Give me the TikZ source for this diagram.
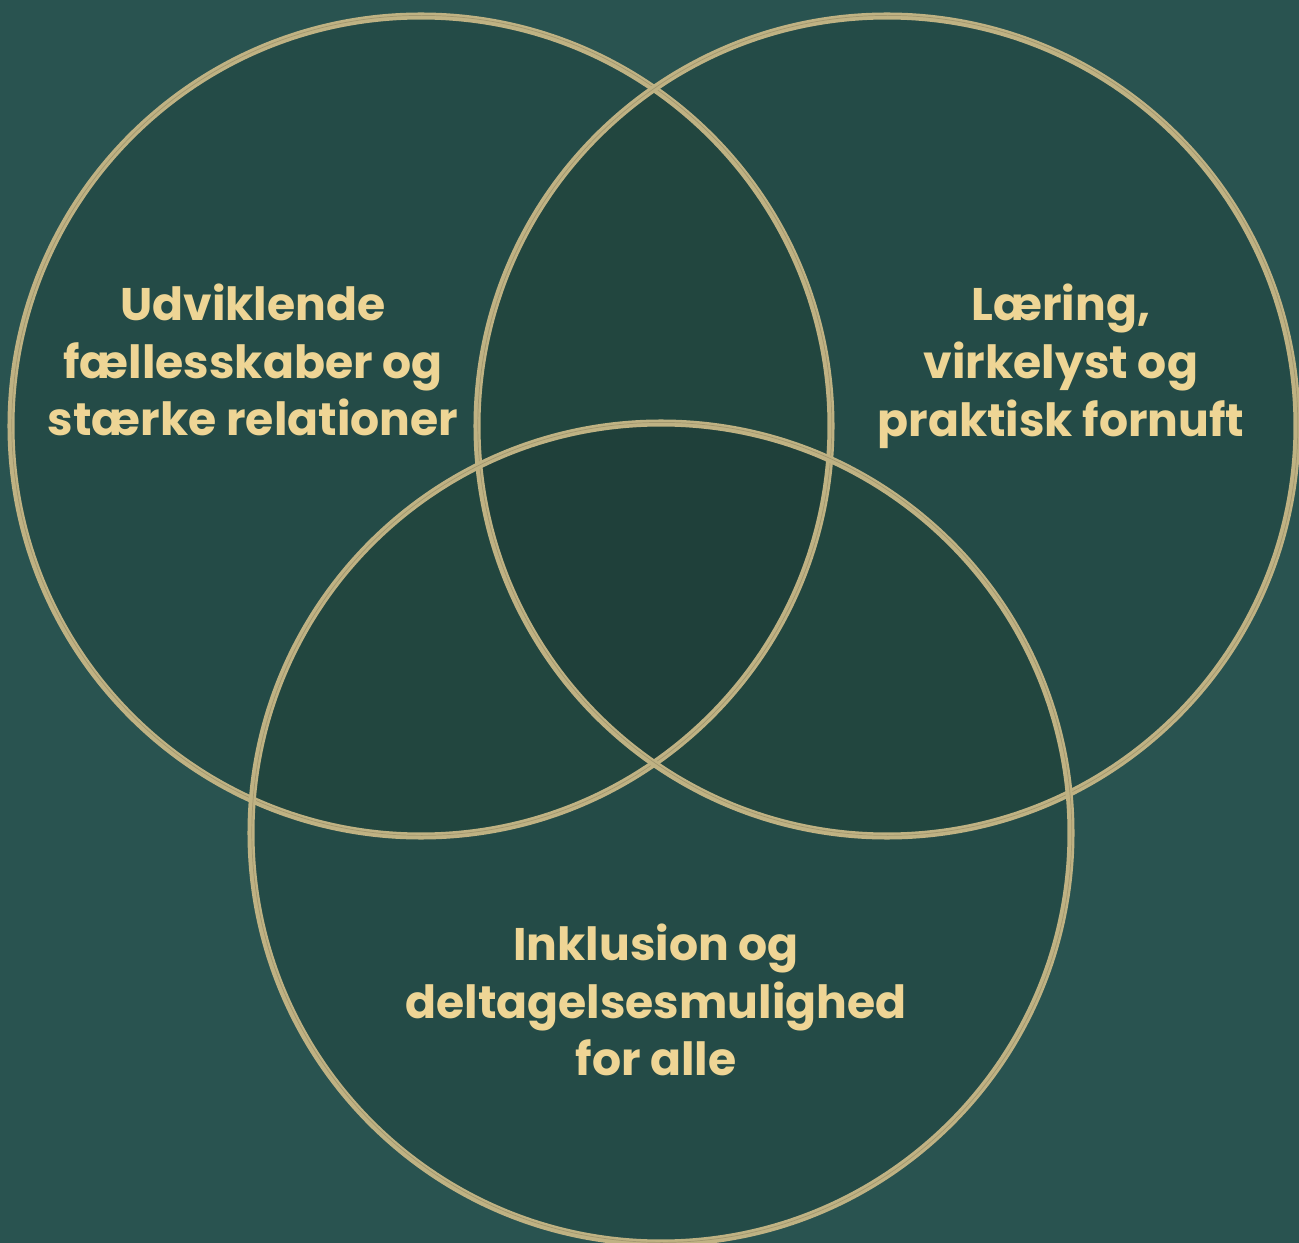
\documentclass[tikz,border=0pt]{standalone}
\usepackage{fontspec}
\setmainfont{Poppins}[BoldFont=* Bold]
\usepackage{tikz}
\newcommand{\rc}{410}
\definecolor{fondvert}{HTML}{295350}
\definecolor{cerclevert}{HTML}{244B47}
\definecolor{deuxvert}{HTML}{22463F}
\definecolor{troisvert}{HTML}{1F403A}
\definecolor{trait}{HTML}{BFB283}
\definecolor{texte}{HTML}{EED595}
\tikzstyle{bord}=[trait, line width=4pt]
\tikzstyle{fin}=[trait!85!black, line width=0.4pt]
\tikzstyle{etiquette}=[texte, align=center, inner sep=0, font=\bfseries\fontsize{26}{32.9}\selectfont]
\begin{document}
\begin{tikzpicture}[x=0.02cm,y=-0.02cm]
\fill[fondvert] (0,0) rectangle (1299,1243);
\useasboundingbox (0,0) rectangle (1299,1243);
\coordinate (G) at (421,426);
\coordinate (D) at (887,426);
\coordinate (B) at (661,833);

% fonds
\foreach \C in {G,D,B}
\fill[cerclevert] (\C) circle (\rc);

% intersections
\begin{scope}
  \clip (G) circle (\rc);
  \fill[deuxvert] (D) circle (\rc);
  \fill[deuxvert] (B) circle (\rc);
\end{scope}
\begin{scope}
  \clip (D) circle (\rc);
  \fill[deuxvert] (B) circle (\rc);
\end{scope}
\begin{scope}
  \clip (G) circle (\rc);
  \clip (D) circle (\rc);
  \fill[troisvert] (B) circle (\rc);
\end{scope}

% traits
\foreach \C in {G,D,B}
{\draw[bord] (\C) circle (\rc);
\draw[fin] (\C)++(0.8,-0.6) circle (\rc);
}

\node[etiquette] (udv) at (253,360) {Udviklende\\fællesskaber og\\stærke relationer};
\node[etiquette] (laer) at (1061,366) {Læring,\\virkelyst og\\praktisk fornuft};
\node[etiquette] (inkl) at (656,1000) {Inklusion og\\deltagelsesmulighed\\for alle};
\end{tikzpicture}
\end{document}
